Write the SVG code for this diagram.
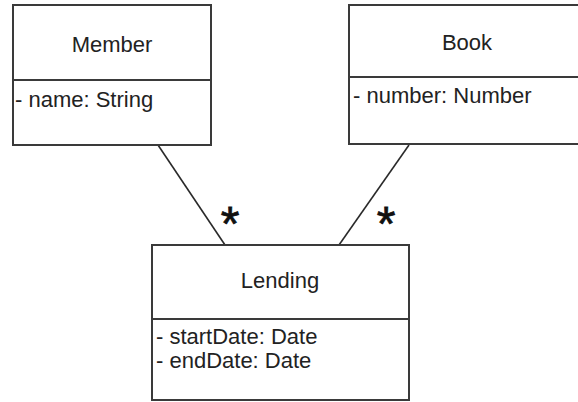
<svg xmlns="http://www.w3.org/2000/svg" width="578" height="402" viewBox="0 0 578 402">
<style>
.box{fill:#fff;stroke:#3a3a3a;stroke-width:2}
.div{stroke:#3a3a3a;stroke-width:2}
.t{font-family:"Liberation Sans",Arial,sans-serif;font-size:22px;fill:#222}
.c{text-anchor:middle}
.conn{stroke:#2a2a2a;stroke-width:1.6;fill:none}
.star{font-family:"Liberation Sans",Arial,sans-serif;font-size:48px;fill:#111;stroke:#111;stroke-width:0.8;text-anchor:middle}
</style>
<rect width="578" height="402" fill="#fff"/>
<g id="connectors">
<line class="conn" x1="158" y1="145" x2="225" y2="245"/>
<line class="conn" x1="409" y1="145" x2="339" y2="245"/>
<text class="star" x="230" y="240">*</text>
<text class="star" x="386" y="240">*</text>
</g>
<g id="member">
<rect class="box" x="13" y="5" width="198" height="140"/>
<line class="div" x1="13" y1="80" x2="211" y2="80"/>
<text class="t c" x="112" y="52">Member</text>
<text class="t" x="15" y="107">- name: String</text>
</g>
<g id="book">
<rect class="box" x="349" y="5" width="250" height="139"/>
<line class="div" x1="349" y1="77" x2="599" y2="77"/>
<text class="t c" x="467" y="50">Book</text>
<text class="t" x="353" y="103">- number: Number</text>
</g>
<g id="lending">
<rect class="box" x="152" y="245" width="257" height="155"/>
<line class="div" x1="152" y1="319" x2="409" y2="319"/>
<text class="t c" x="280" y="288">Lending</text>
<text class="t" x="156" y="344">- startDate: Date</text>
<text class="t" x="156" y="368">- endDate: Date</text>
</g>
</svg>
